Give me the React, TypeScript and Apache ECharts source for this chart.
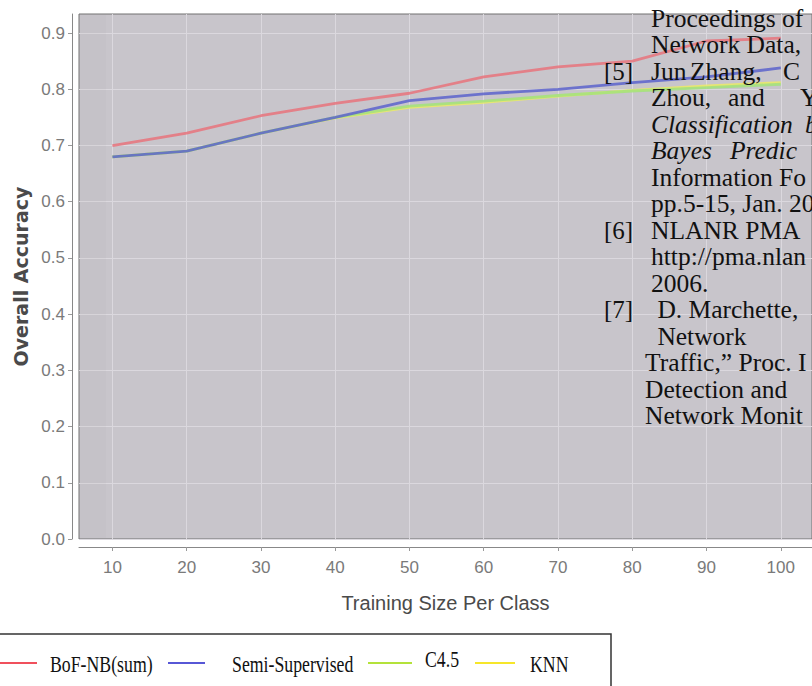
import React, { useEffect, useRef } from "react";
import * as echarts from "echarts";

// ---- data ----
const trainingSizes = [10, 20, 30, 40, 50, 60, 70, 80, 90, 100];
const bofNbSum = [0.7, 0.722, 0.753, 0.775, 0.793, 0.822, 0.84, 0.85, 0.886, 0.891];
const semiSupervised = [0.68, 0.69, 0.722, 0.75, 0.78, 0.792, 0.8, 0.812, 0.822, 0.838];
const c45 = [0.68, 0.69, 0.722, 0.75, 0.77, 0.779, 0.789, 0.797, 0.803, 0.809];
const knn = [0.68, 0.69, 0.722, 0.749, 0.768, 0.777, 0.788, 0.798, 0.806, 0.812];
const seriesNames = ["BoF-NB(sum)", "Semi-Supervised", "C4.5", "KNN"];
const yTicks = [0, 0.1, 0.2, 0.3, 0.4, 0.5, 0.6, 0.7, 0.8, 0.9];
const xTicks = [10, 20, 30, 40, 50, 60, 70, 80, 90, 100];

// overlapping text from the scanned page (right side)
const paperLines: { label?: string; words: string[]; italic?: boolean }[] = [
  { words: ["Proceedings of"] },
  { words: ["Network Data,"] },
  { label: "[5]", words: ["Jun", "Zhang,", "C"] },
  { words: ["Zhou,", "and", "Y"] },
  { words: ["Classification", "b"], italic: true },
  { words: ["Bayes", "Predic"], italic: true },
  { words: ["Information", "Fo"] },
  { words: ["pp.5-15, Jan. 20"] },
  { label: "[6]", words: ["NLANR PMA"] },
  { words: ["http://pma.nlan"] },
  { words: ["2006."] },
  { label: "[7]", words: [" D. Marchette,"] },
  { words: [" Network"] },
  { words: ["Traffic,\u201d Proc. I"] },
  { words: ["Detection and"] },
  { words: ["Network Monit"] },
];

const colors = ["#e8737c", "#5c63cc", "#a2e27c", "#ecea66"];
const legendColors = ["#f0505c", "#5757d6", "#b4e23a", "#f6e62a"];

export default function App() {
  const ref = useRef<HTMLDivElement>(null);
  useEffect(() => {
    if (!ref.current) return;
    const chart = echarts.init(ref.current, null, { renderer: "svg" });

    const allSeries = [bofNbSum, semiSupervised, c45, knn];
    const series = allSeries.map((vals, i) => ({
      name: seriesNames[i],
      type: "line",
      symbol: "none",
      z: 10 - i,
      data: trainingSizes.map((x, j) => [x, vals[j]]),
      lineStyle: { color: colors[i], width: 2.8, opacity: 0.85 },
      itemStyle: { color: colors[i] },
    }));

    // page text graphic elements
    const serif = "Liberation Serif, Times New Roman, serif";
    const textEls: any[] = [];
    const wordX: Record<number, number[]> = {
      2: [651, 690, 783],
      3: [651, 728, 800],
      4: [651, 805],
      5: [651, 730],
      6: [651, 779],
    };
    paperLines.forEach((ln, n) => {
      const y = 18 + 26.5 * n;
      const baseX = n >= 13 ? 645 : 651;
      if (ln.label) {
        textEls.push({
          type: "text",
          x: 604,
          y,
          z: 100,
          style: { text: ln.label, font: `25px ${serif}`, fill: "#111", verticalAlign: "middle" },
        });
      }
      const xs = wordX[n] || [baseX];
      ln.words.forEach((w, k) => {
        textEls.push({
          type: "text",
          x: xs[k] ?? baseX,
          y,
          z: 100,
          style: {
            text: w,
            font: `${ln.italic ? "italic " : ""}25.5px ${serif}`,
            fill: "#111",
            verticalAlign: "middle",
          },
        });
      });
    });

    // legend drawn as graphic
    const legendItems = [
      { line: [0, 37], tx: 50, ty: 664 },
      { line: [168, 205], tx: 232, ty: 664 },
      { line: [368, 412], tx: 425, ty: 659 },
      { line: [475, 515], tx: 530, ty: 664 },
    ];
    const legendEls: any[] = [
      {
        type: "rect",
        z: 100,
        shape: { x: -2, y: 634, width: 613, height: 80 },
        style: { fill: "#fff", stroke: "#333", lineWidth: 1.5 },
      },
    ];
    legendItems.forEach((it, i) => {
      legendEls.push({
        type: "line",
        z: 101,
        shape: { x1: it.line[0], y1: 663, x2: it.line[1], y2: 663 },
        style: { stroke: legendColors[i], lineWidth: 2 },
      });
      legendEls.push({
        type: "text",
        z: 101,
        x: it.tx,
        y: it.ty,
        scaleX: 0.74,
        style: {
          text: seriesNames[i],
          font: `24px ${serif}`,
          fill: "#111",
          verticalAlign: "middle",
        },
      });
    });

    // faint scan shading at the left edge of the plot
    const shadeEls: any[] = [
      {
        type: "rect",
        z: 1,
        silent: true,
        shape: { x: 80, y: 15, width: 26, height: 523 },
        style: { fill: "rgba(150,150,150,0.06)" },
      },
    ];

    const axisFont = "Liberation Sans, Arial, sans-serif";

    chart.setOption({
      animation: false,
      backgroundColor: "#ffffff",
      grid: {
        left: 79,
        top: 14,
        right: 0,
        bottom: 147,
        show: true,
        backgroundColor: "#c8c5cb",
        borderColor: "#707070",
        borderWidth: 1,
      },
      legend: { show: false, data: seriesNames },
      xAxis: {
        type: "value",
        min: 5.5,
        max: 104.2,
        offset: 8,
        name: "Training Size Per Class",
        nameLocation: "middle",
        nameGap: 46,
        nameTextStyle: { fontFamily: axisFont, fontSize: 20, color: "#4a4a4a" },
        axisLine: { show: true, onZero: false, lineStyle: { color: "#888" } },
        axisTick: { show: true, length: 4, lineStyle: { color: "#999" }, customValues: xTicks },
        axisLabel: {
          color: "#7a7a7a",
          fontFamily: axisFont,
          fontSize: 17,
          margin: 12,
          customValues: xTicks,
        },
        splitLine: { show: true, lineStyle: { color: "#dbd8de", width: 1 } },
      },
      yAxis: {
        type: "value",
        min: 0,
        max: 0.934,
        offset: 7,
        name: "Overall Accuracy",
        nameLocation: "middle",
        nameGap: 38,
        nameTextStyle: { fontFamily: "DejaVu Sans, sans-serif", fontSize: 19, fontWeight: "bold", color: "#4a4a4a" },
        axisLine: { show: true, lineStyle: { color: "#888" } },
        axisTick: { show: true, length: 4, lineStyle: { color: "#999" }, customValues: yTicks },
        axisLabel: {
          color: "#7a7a7a",
          fontFamily: axisFont,
          fontSize: 17,
          margin: 7,
          customValues: yTicks,
          formatter: (v: number) => v.toFixed(1),
        },
        splitLine: { show: true, lineStyle: { color: "#dbd8de", width: 1 } },
      },
      series,
      graphic: [...shadeEls, ...textEls, ...legendEls],
    });
    return () => chart.dispose();
  }, []);
  return (
    <div
      ref={ref}
      style={{ position: "fixed", left: 0, top: 0, width: 812, height: 686, background: "#fff" }}
    />
  );
}
